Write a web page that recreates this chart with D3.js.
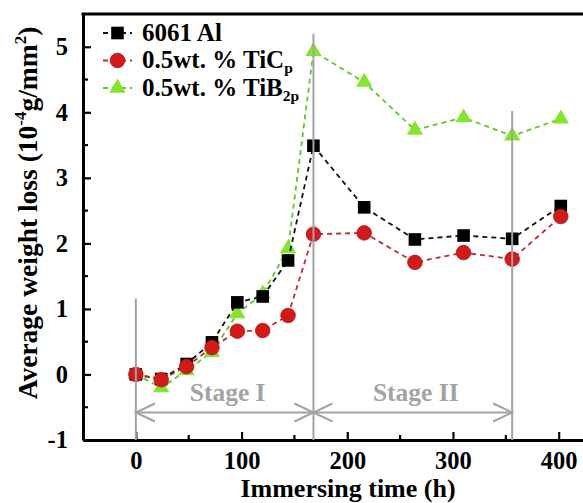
<!DOCTYPE html>
<html>
<head>
<meta charset="utf-8">
<script src="https://cdn.jsdelivr.net/npm/d3@7"></script>
<style>
    body { margin: 0; background: #fff; }
    svg text { font-family: "Liberation Serif", "Times New Roman", serif; font-weight: bold; }
</style>
</head>
<body>
<div id="chart"></div>
<script>
// immersing time (h)
var times = [0, 24, 48, 72, 96, 120, 144, 168, 216, 264, 310, 356, 402];

// average weight loss (10^-4 g/mm^2)
var al6061 = [0, -0.07, 0.16, 0.49, 1.10, 1.19, 1.74, 3.49, 2.55, 2.06, 2.12, 2.07, 2.57];
var tic    = [0, -0.08, 0.12, 0.41, 0.66, 0.67, 0.90, 2.14, 2.16, 1.71, 1.86, 1.76, 2.41];
var tib2   = [0, -0.20, 0.06, 0.34, 0.93, 1.23, 1.92, 4.93, 4.46, 3.73, 3.92, 3.64, 3.90];

var xTicks = [0, 100, 200, 300, 400];
var xMinor = [50, 150, 250, 350];
var yTicks = [-1, 0, 1, 2, 3, 4, 5];
var yMinor = [-0.5, 0.5, 1.5, 2.5, 3.5, 4.5];

// stage boundaries: [time, top of the grey line]
var stageLines = [[0, 1.16], [168, 5.2], [356, 4.02]];
var stages = [
    {name: "Stage I",  from: 0,   to: 168},
    {name: "Stage II", from: 168, to: 356}
];
var arrowLevel = -0.58;

var W = 583, H = 503;
var svg = d3.select("#chart").append("svg")
    .attr("width", W)
    .attr("height", H);

var x = d3.scaleLinear().domain([-50, 423]).range([83, 583]);
var y = d3.scaleLinear().domain([-1, 5.5]).range([440, 14]);

var series = [
    {name: "6061 Al", values: al6061, line: "#111", fill: "#000", shape: "square"},
    {name: "0.5wt. % TiC", sub: "p", values: tic, line: "#b83030", fill: "#d21a1a", shape: "circle"},
    {name: "0.5wt. % TiB", sub: "2p", values: tib2, line: "#5ec82a", fill: "#82e62c", shape: "triangle"}
];

var drawOrder = [series[2], series[0], series[1]];

var marker = function(sel, s) {
    if (s.shape === "circle") {
	sel.append("circle").attr("r", 7.3)
	    .attr("fill", s.fill).attr("stroke", "#b01515").attr("stroke-width", 0.8);
    } else if (s.shape === "square") {
	sel.append("rect").attr("x", -6.3).attr("y", -6.3).attr("width", 12.6).attr("height", 12.6)
	    .attr("fill", s.fill);
    } else {
	sel.append("path").attr("d", d3.symbol(d3.symbolTriangle, 115)())
	    .attr("fill", s.fill);
    }
};

var plain = function(d) { return String(d); };

// axes (ticks pointing inward)
var yAxis = svg.append("g")
    .attr("transform", "translate(" + x.range()[0] + ",0)")
    .call(d3.axisLeft(y).tickValues(yTicks).tickFormat(plain)
	  .tickSizeInner(-8).tickSizeOuter(0).tickPadding(15));
yAxis.append("g").selectAll("line").data(yMinor).enter().append("line")
    .attr("x1", 0).attr("x2", 5)
    .attr("y1", function(d) { return y(d); })
    .attr("y2", function(d) { return y(d); });

var xAxis = svg.append("g")
    .attr("transform", "translate(0," + y.range()[0] + ")")
    .call(d3.axisBottom(x).tickValues(xTicks).tickFormat(plain)
	  .tickSizeInner(-8).tickSizeOuter(0).tickPadding(12));
xAxis.append("g").selectAll("line").data(xMinor).enter().append("line")
    .attr("x1", function(d) { return x(d); })
    .attr("x2", function(d) { return x(d); })
    .attr("y1", 0).attr("y2", -5);

svg.selectAll(".tick line, g > g > line").attr("stroke", "#000").attr("stroke-width", 2.2);
svg.selectAll(".domain").attr("stroke", "#000").attr("stroke-width", 3);
svg.selectAll(".tick text").attr("font-size", 24.5).attr("fill", "#000");

// top frame line
svg.append("line")
    .attr("x1", x.range()[0] - 1.5).attr("x2", x.range()[1])
    .attr("y1", y.range()[1]).attr("y2", y.range()[1])
    .attr("stroke", "#000").attr("stroke-width", 3);

// series
var lineGen = d3.line()
    .x(function(d) { return x(d[0]); })
    .y(function(d) { return y(d[1]); });

drawOrder.forEach(function(s) {
    var pts = times.map(function(t, i) { return [t, s.values[i]]; });
    svg.append("path")
	.attr("d", lineGen(pts))
	.attr("fill", "none")
	.attr("stroke", s.line)
	.attr("stroke-width", 1.8)
	.attr("stroke-dasharray", "5,4");
    svg.append("g").selectAll("g").data(pts).enter().append("g")
	.attr("transform", function(d) { return "translate(" + x(d[0]) + "," + y(d[1]) + ")"; })
	.each(function() { marker(d3.select(this), s); });
});

// stage annotation
var grey = "#a3a3a3";
svg.append("g").selectAll("line").data(stageLines).enter().append("line")
    .attr("x1", function(d) { return x(d[0]); })
    .attr("x2", function(d) { return x(d[0]); })
    .attr("y1", function(d) { return y(d[1]); })
    .attr("y2", y.range()[0])
    .attr("stroke", grey).attr("stroke-width", 2);

var ay = y(arrowLevel);
stages.forEach(function(st) {
    var x0 = x(st.from), x1 = x(st.to);
    var g = svg.append("g").attr("stroke", grey).attr("stroke-width", 2).attr("fill", "none");
    g.append("line").attr("x1", x0).attr("x2", x1).attr("y1", ay).attr("y2", ay);
    g.append("path").attr("d", "M" + (x0 + 19) + "," + (ay - 9) + "L" + x0 + "," + ay + "L" + (x0 + 19) + "," + (ay + 9));
    g.append("path").attr("d", "M" + (x1 - 19) + "," + (ay - 9) + "L" + x1 + "," + ay + "L" + (x1 - 19) + "," + (ay + 9));
    svg.append("text")
	.attr("x", (x0 + x1) / 2 + 3)
	.attr("y", 401)
	.attr("text-anchor", "middle")
	.attr("font-size", 25.5)
	.attr("fill", grey)
	.text(st.name);
});

// legend
var legend = svg.append("g").attr("transform", "translate(103,33)");
series.forEach(function(s, i) {
    var row = legend.append("g").attr("transform", "translate(0," + (i * 27.5) + ")");
    row.append("line").attr("x1", 0).attr("x2", 29).attr("y1", 0).attr("y2", 0)
	.attr("stroke", s.line).attr("stroke-width", 1.8).attr("stroke-dasharray", "5,4");
    marker(row.append("g").attr("transform", "translate(14.5,0)"), s);
    var t = row.append("text").attr("x", 39).attr("y", 7.5).attr("font-size", 25).attr("fill", "#000");
    t.append("tspan").text(s.name);
    if (s.sub) {
	t.append("tspan").attr("font-size", 15.5).attr("dy", 5).text(s.sub);
    }
});

// axis titles
svg.append("text")
    .attr("x", (x(-50) + x(423)) / 2 + 15)
    .attr("y", 497)
    .attr("text-anchor", "middle")
    .attr("font-size", 26)
    .attr("fill", "#000")
    .text("Immersing time (h)");

var yt = svg.append("text")
    .attr("transform", "translate(37,213) rotate(-90)")
    .attr("text-anchor", "middle")
    .attr("font-size", 27.5)
    .attr("fill", "#000");
yt.append("tspan").text("Average weight loss (10");
yt.append("tspan").attr("font-size", 17).attr("dy", -11).text("-4");
yt.append("tspan").attr("dy", 11).text("g/mm");
yt.append("tspan").attr("font-size", 17).attr("dy", -11).text("2");
yt.append("tspan").attr("dy", 11).text(")");
</script>
</body>
</html>
